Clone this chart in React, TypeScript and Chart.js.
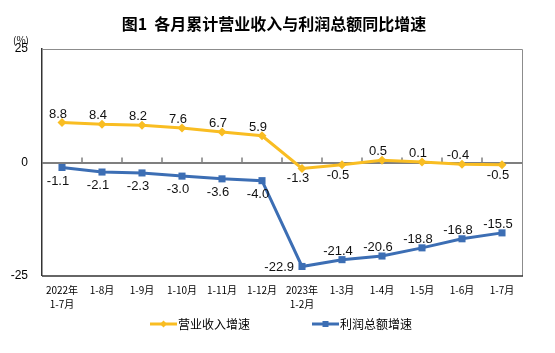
import React, { useEffect, useRef } from "react";
import { Chart, registerables } from "chart.js";

Chart.register(...registerables);

// ---- data ----
const categories: (string | string[])[] = [
  ["2022年", "1-7月"], "1-8月", "1-9月", "1-10月", "1-11月", "1-12月",
  ["2023年", "1-2月"], "1-3月", "1-4月", "1-5月", "1-6月", "1-7月",
];
const revenueGrowth = [8.8, 8.4, 8.2, 7.6, 6.7, 5.9, -1.3, -0.5, 0.5, 0.1, -0.4, -0.5];
const profitGrowth = [-1.1, -2.1, -2.3, -3.0, -3.6, -4.0, -22.9, -21.4, -20.6, -18.8, -16.8, -15.5];
const yTickValues = [-25, 0, 25];
const titleText = "图1  各月累计营业收入与利润总额同比增速";
const unitText = "(%)";
const seriesNames = ["营业收入增速", "利润总额增速"];

// ---- styles ----
const YELLOW = "#F9BD22";
const BLUE = "#3C6EB4";
const labelPlacement = [
  ["a", "a", "a", "a", "a", "a", "b", "b", "a", "a", "a", "b"],
  ["b", "b", "b", "b", "b", "b", "l", "a", "a", "a", "a", "a"],
];
const FONT_NUM = '"Liberation Sans", Arial, sans-serif';
const FONT_CJK = '"Noto Sans CJK SC", sans-serif';

const decorPlugin = {
  id: "decor",
  beforeDatasetsDraw(chart: any) {
    const { ctx, chartArea } = chart;
    const x = chart.scales.x;
    const y = chart.scales.y;
    ctx.save();
    // frame
    ctx.strokeStyle = "#8C8C8C";
    ctx.lineWidth = 1;
    ctx.beginPath();
    ctx.moveTo(chartArea.left, chartArea.top + 0.5);
    ctx.lineTo(chartArea.right + 0.5, chartArea.top + 0.5);
    ctx.lineTo(chartArea.right + 0.5, chartArea.bottom);
    ctx.stroke();
    ctx.strokeStyle = "#333";
    ctx.lineWidth = 1.5;
    ctx.beginPath();
    ctx.moveTo(chartArea.left, chartArea.bottom);
    ctx.lineTo(chartArea.right + 1, chartArea.bottom);
    ctx.stroke();
    // zero line tick marks
    const zy = y.getPixelForValue(0);
    ctx.strokeStyle = "#7F7F7F";
    ctx.lineWidth = 1.5;
    for (let i = 1; i < categories.length; i++) {
      const bx = (x.getPixelForValue(i - 1) + x.getPixelForValue(i)) / 2;
      ctx.beginPath();
      ctx.moveTo(bx, zy);
      ctx.lineTo(bx, zy - 5);
      ctx.stroke();
    }
    ctx.restore();
  },
  afterDatasetsDraw(chart: any) {
    const { ctx } = chart;
    ctx.save();
    ctx.fillStyle = "#111";
    ctx.font = `13px ${FONT_NUM}`;
    chart.data.datasets.forEach((ds: any, di: number) => {
      const meta = chart.getDatasetMeta(di);
      meta.data.forEach((pt: any, i: number) => {
        const v = ds.data[i] as number;
        const txt = v.toFixed(1);
        const pos = labelPlacement[di][i];
        if (pos === "a") {
          ctx.textAlign = "center";
          ctx.textBaseline = "alphabetic";
          ctx.fillText(txt, pt.x - 4, pt.y - 5);
        } else if (pos === "b") {
          ctx.textAlign = "center";
          ctx.textBaseline = "top";
          ctx.fillText(txt, pt.x - 4, pt.y + (di === 0 ? 4 : 7));
        } else {
          ctx.textAlign = "right";
          ctx.textBaseline = "middle";
          ctx.fillText(txt, pt.x - 8, pt.y + 1);
        }
      });
    });
    ctx.restore();
  },
  afterDraw(chart: any) {
    const { ctx } = chart;
    ctx.save();
    // title
    ctx.fillStyle = "#000";
    ctx.font = `bold 16px ${FONT_CJK}`;
    ctx.textAlign = "center";
    ctx.textBaseline = "middle";
    ctx.fillText(titleText, 274, 24);
    // unit
    ctx.font = `10px ${FONT_CJK}`;
    ctx.fillText(unitText, 21, 40);
    // legend
    const items = [
      { x: 150, color: YELLOW, style: "diamond", name: seriesNames[0] },
      { x: 312, color: BLUE, style: "square", name: seriesNames[1] },
    ];
    const ly = 324;
    items.forEach((it) => {
      ctx.strokeStyle = it.color;
      ctx.fillStyle = it.color;
      ctx.lineWidth = 3;
      ctx.beginPath();
      ctx.moveTo(it.x, ly);
      ctx.lineTo(it.x + 27, ly);
      ctx.stroke();
      const cx = it.x + 13.5;
      ctx.beginPath();
      if (it.style === "diamond") {
        ctx.moveTo(cx, ly - 3.5);
        ctx.lineTo(cx + 3.5, ly);
        ctx.lineTo(cx, ly + 3.5);
        ctx.lineTo(cx - 3.5, ly);
        ctx.closePath();
      } else {
        ctx.rect(cx - 3, ly - 3, 6, 6);
      }
      ctx.fill();
      ctx.fillStyle = "#000";
      ctx.font = `12px ${FONT_CJK}`;
      ctx.textAlign = "left";
      ctx.textBaseline = "middle";
      ctx.fillText(it.name, it.x + 28, ly);
    });
    ctx.restore();
  },
};

export default function App() {
  const ref = useRef<HTMLCanvasElement | null>(null);
  useEffect(() => {
    if (!ref.current) return;
    const chart = new Chart(ref.current, {
      type: "line",
      data: {
        labels: categories,
        datasets: [
          {
            label: seriesNames[0],
            data: revenueGrowth,
            borderColor: YELLOW,
            backgroundColor: YELLOW,
            borderWidth: 3,
            pointStyle: "rectRot",
            pointRadius: 4.5,
            pointBorderWidth: 0,
            tension: 0,
          },
          {
            label: seriesNames[1],
            data: profitGrowth,
            borderColor: BLUE,
            backgroundColor: BLUE,
            borderWidth: 3,
            pointStyle: "rect",
            pointRadius: 5,
            pointBorderWidth: 0,
            tension: 0,
          },
        ],
      },
      options: {
        responsive: false,
        animation: false,
        events: [],
        layout: { padding: { left: 0, right: 33, top: 49, bottom: 37 } },
        plugins: {
          legend: { display: false },
          title: { display: false },
          tooltip: { enabled: false },
        },
        scales: {
          x: {
            type: "category",
            offset: true,
            grid: { display: false, drawTicks: false },
            border: { display: false },
            ticks: {
              color: "#000",
              font: { family: FONT_CJK, size: 10, lineHeight: 1.4 },
              padding: 7,
              maxRotation: 0,
              autoSkip: false,
            },
            afterFit(scale: any) {
              scale.height = 40;
            },
          },
          y: {
            min: -25,
            max: 25,
            afterBuildTicks(scale: any) {
              scale.ticks = yTickValues.map((v) => ({ value: v }));
            },
            grid: {
              drawTicks: false,
              color: (c: any) => (c.tick && c.tick.value === 0 ? "#7F7F7F" : "rgba(0,0,0,0)"),
              lineWidth: (c: any) => (c.tick && c.tick.value === 0 ? 2 : 0),
            },
            border: { display: true, color: "#333", width: 1.5 },
            ticks: {
              color: "#000",
              font: { family: FONT_NUM, size: 12 },
              padding: 14,
            },
            afterFit(scale: any) {
              scale.width = 42;
            },
          },
        },
      },
      plugins: [decorPlugin],
    });
    return () => chart.destroy();
  }, []);
  return (
    <div style={{ position: "absolute", left: 0, top: 0, width: 555, height: 353, background: "#fff" }}>
      <canvas ref={ref} width={555} height={353} style={{ display: "block" }} />
    </div>
  );
}
